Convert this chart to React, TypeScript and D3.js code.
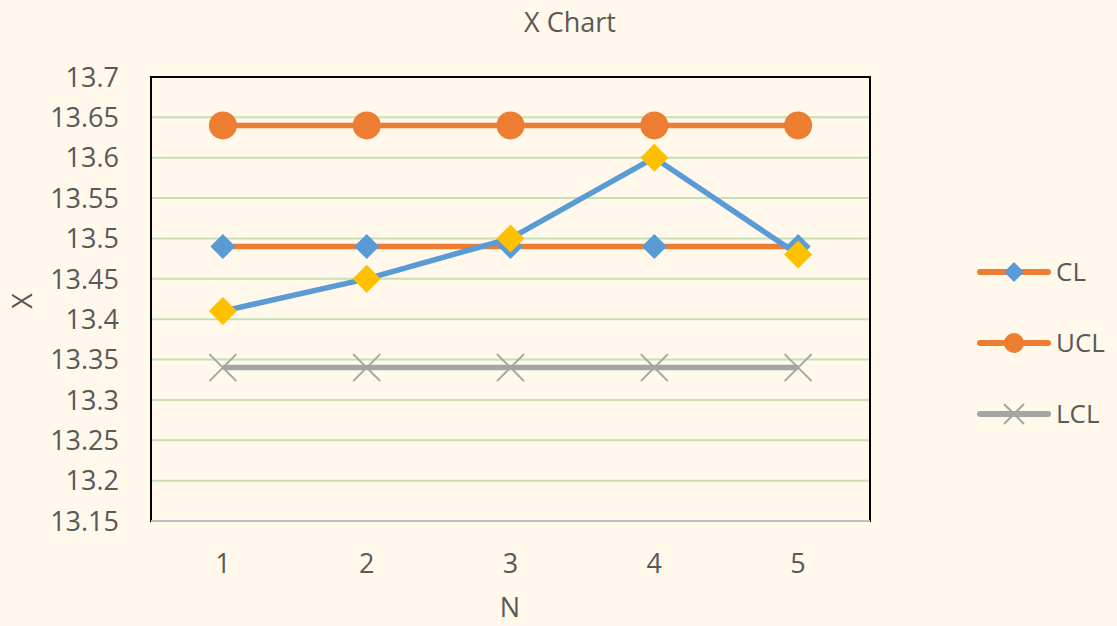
import React, { useEffect, useRef } from 'react'
import * as d3 from 'd3'

const categories = ['1', '2', '3', '4', '5']
const xValues = [13.41, 13.45, 13.5, 13.6, 13.48]
const clValues = [13.49, 13.49, 13.49, 13.49, 13.49]
const uclValues = [13.64, 13.64, 13.64, 13.64, 13.64]
const lclValues = [13.34, 13.34, 13.34, 13.34, 13.34]
const yTicks = [13.15, 13.2, 13.25, 13.3, 13.35, 13.4, 13.45, 13.5, 13.55, 13.6, 13.65, 13.7]
const legendNames = ['CL', 'UCL', 'LCL']

const App: React.FC = () => {
  const ref = useRef<SVGSVGElement>(null)

  useEffect(() => {
    document.body.style.margin = '0'
    renderChart()
  }, [])

  const renderChart = () => {
    const width = 1117
    const height = 626
    const left = 151
    const right = 870
    const top = 77
    const bottom = 521
    const font = "'Open Sans', sans-serif"
    const textColor = '#595959'
    const orange = '#ed7d31'
    const blue = '#5b9bd5'
    const yellow = '#ffc000'
    const gray = '#a5a5a5'

    const svg = d3.select(ref.current)
    svg.selectAll('*').remove()
    svg.attr('width', width).attr('height', height)

    svg.append('rect').attr('width', width).attr('height', height).attr('fill', '#fff8eb')

    const xScale = d3.scalePoint<string>().domain(categories).range([left, right]).padding(0.5)
    const yScale = d3.scaleLinear().domain([13.15, 13.7]).range([bottom, top])

    // gridlines
    svg
      .append('g')
      .selectAll('line')
      .data(yTicks.slice(1, -1))
      .enter()
      .append('line')
      .attr('x1', left)
      .attr('x2', right)
      .attr('y1', (d) => yScale(d))
      .attr('y2', (d) => yScale(d))
      .attr('stroke', '#c5e0b4')
      .attr('stroke-width', 2)

    // plot border
    svg
      .append('rect')
      .attr('x', left)
      .attr('y', top)
      .attr('width', right - left)
      .attr('height', bottom - top)
      .attr('fill', 'none')
      .attr('stroke', '#000')
      .attr('stroke-width', 2)
    svg
      .append('line')
      .attr('x1', left)
      .attr('x2', right)
      .attr('y1', bottom)
      .attr('y2', bottom)
      .attr('stroke', '#bfbfbf')
      .attr('stroke-width', 2)

    // y tick labels
    svg
      .append('g')
      .selectAll('text')
      .data(yTicks)
      .enter()
      .append('text')
      .attr('x', 119)
      .attr('y', (d) => yScale(d))
      .attr('dy', '0.36em')
      .attr('text-anchor', 'end')
      .attr('font-family', font)
      .attr('font-size', 27)
      .attr('fill', textColor)
      .text((d) => String(d))

    // x tick labels
    svg
      .append('g')
      .selectAll('text')
      .data(categories)
      .enter()
      .append('text')
      .attr('x', (d) => xScale(d) as number)
      .attr('y', 563)
      .attr('dy', '0.36em')
      .attr('text-anchor', 'middle')
      .attr('font-family', font)
      .attr('font-size', 27)
      .attr('fill', textColor)
      .text((d) => d)

    // titles
    svg
      .append('text')
      .attr('x', 570)
      .attr('y', 22)
      .attr('dy', '0.36em')
      .attr('text-anchor', 'middle')
      .attr('font-family', font)
      .attr('font-size', 27)
      .attr('fill', textColor)
      .text('X Chart')
    svg
      .append('text')
      .attr('x', 510)
      .attr('y', 607)
      .attr('dy', '0.36em')
      .attr('text-anchor', 'middle')
      .attr('font-family', font)
      .attr('font-size', 27)
      .attr('fill', textColor)
      .text('N')
    svg
      .append('text')
      .attr('transform', 'translate(22, 301) rotate(-90)')
      .attr('dy', '0.36em')
      .attr('text-anchor', 'middle')
      .attr('font-family', font)
      .attr('font-size', 27)
      .attr('fill', textColor)
      .text('X')

    const line = d3
      .line<number>()
      .x((d, i) => xScale(categories[i]) as number)
      .y((d) => yScale(d))

    const diamond = (r: number) => `M0,${-r}L${r},0L0,${r}L${-r},0Z`
    const cross = (r: number) => `M${-r},${-r}L${r},${r}M${-r},${r}L${r},${-r}`

    type Series = { values: number[]; lineColor: string; marker: string; markerBig: number; markerSmall: number }
    const series: Series[] = [
      { values: clValues, lineColor: orange, marker: 'diamond', markerBig: 12.5, markerSmall: 10 },
      { values: uclValues, lineColor: orange, marker: 'circle', markerBig: 14, markerSmall: 10 },
      { values: lclValues, lineColor: gray, marker: 'cross', markerBig: 13.5, markerSmall: 10 },
    ]

    const drawMarker = (g: any, kind: string, r: number, x: number, y: number) => {
      if (kind === 'circle') {
        g.append('circle').attr('cx', x).attr('cy', y).attr('r', r).attr('fill', orange)
      } else if (kind === 'diamond') {
        g.append('path').attr('transform', `translate(${x},${y})`).attr('d', diamond(r)).attr('fill', blue)
      } else if (kind === 'yellow') {
        g.append('path').attr('transform', `translate(${x},${y})`).attr('d', diamond(r)).attr('fill', yellow)
      } else {
        g.append('path')
          .attr('transform', `translate(${x},${y})`)
          .attr('d', cross(r))
          .attr('stroke', gray)
          .attr('stroke-width', 2)
          .attr('fill', 'none')
      }
    }

    const lines = svg.append('g')
    series.forEach((s) => {
      lines
        .append('path')
        .attr('d', line(s.values))
        .attr('fill', 'none')
        .attr('stroke', s.lineColor)
        .attr('stroke-width', 5.5)
        .attr('stroke-linejoin', 'round')
      s.values.forEach((v, i) => drawMarker(lines, s.marker, s.markerBig, xScale(categories[i]) as number, yScale(v)))
    })

    // measured X series
    lines
      .append('path')
      .attr('d', line(xValues))
      .attr('fill', 'none')
      .attr('stroke', blue)
      .attr('stroke-width', 5.5)
      .attr('stroke-linejoin', 'round')
    xValues.forEach((v, i) => drawMarker(lines, 'yellow', 14, xScale(categories[i]) as number, yScale(v)))

    // legend
    const legend = svg.append('g')
    series.forEach((s, i) => {
      const y = 272 + i * 71
      legend
        .append('line')
        .attr('x1', 980)
        .attr('x2', 1048)
        .attr('y1', y)
        .attr('y2', y)
        .attr('stroke', s.lineColor)
        .attr('stroke-width', 6)
        .attr('stroke-linecap', 'round')
      drawMarker(legend, s.marker, s.markerSmall, 1014, y)
      legend
        .append('text')
        .attr('x', 1056)
        .attr('y', y)
        .attr('dy', '0.36em')
        .attr('font-family', font)
        .attr('font-size', 26)
        .attr('fill', textColor)
        .text(legendNames[i])
    })
  }

  return <svg ref={ref} style={{ display: 'block' }} />
}

export default App
